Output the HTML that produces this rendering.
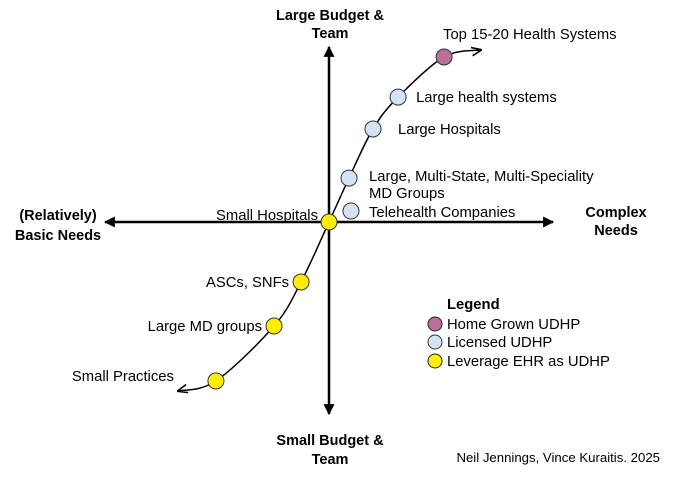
<!DOCTYPE html>
<html><head><meta charset="utf-8">
<style>
html,body{margin:0;padding:0;background:#fff;}
svg{display:block;font-family:"Liberation Sans",Arial,sans-serif;}
</style></head>
<body>
<svg id="chart" width="691" height="478" viewBox="0 0 691 478" xmlns="http://www.w3.org/2000/svg">
<defs>
<marker id="ah" viewBox="0 0 10 10" refX="9" refY="5" markerWidth="12" markerHeight="11" orient="auto-start-reverse" markerUnits="userSpaceOnUse"><path d="M0,0 L10,5 L0,10 z" fill="#000"/></marker>
<marker id="ah2" viewBox="0 0 10 10" refX="9" refY="5" markerWidth="7" markerHeight="7" orient="auto-start-reverse"><path d="M0,1 L10,5 L0,9" fill="none" stroke="#000" stroke-width="1.5"/></marker>
</defs>
<line x1="105" y1="222" x2="553" y2="222" stroke="#000" stroke-width="2.5" marker-start="url(#ah)" marker-end="url(#ah)"/>
<line x1="329" y1="47" x2="329" y2="414" stroke="#000" stroke-width="2.5" marker-start="url(#ah)" marker-end="url(#ah)"/>
<g font-weight="bold" font-size="14.5" text-anchor="middle">
<text x="330" y="20">Large Budget &amp;</text>
<text x="330" y="38">Team</text>
<text x="330" y="445">Small Budget &amp;</text>
<text x="330" y="464">Team</text>
<text x="58" y="220">(Relatively)</text>
<text x="58" y="240">Basic Needs</text>
<text x="616" y="217">Complex</text>
<text x="616" y="235">Needs</text>
</g>
<g id="plot"></g>
<g font-size="14.8">
<text x="447" y="309" font-weight="bold">Legend</text>
<circle cx="435" cy="324" r="7" fill="#b86f98" stroke="#222" stroke-width="1"/>
<text x="447" y="329">Home Grown UDHP</text>
<circle cx="435" cy="342" r="7" fill="#d4e3f3" stroke="#333" stroke-width="1"/>
<text x="447" y="347">Licensed UDHP</text>
<circle cx="435" cy="361" r="7" fill="#ffee00" stroke="#222" stroke-width="1"/>
<text x="447" y="366">Leverage EHR as UDHP</text>
</g>
<text x="660" y="462" text-anchor="end" font-size="13.2">Neil Jennings, Vince Kuraitis. 2025</text>
</svg>
<script>
const labels = ["Top 15-20 Health Systems","Large health systems","Large Hospitals","Large, Multi-State, Multi-Speciality|MD Groups","Telehealth Companies","Small Hospitals","ASCs, SNFs","Large MD groups","Small Practices"];
const complexity = [52.3, 31.4, 20, 9.1, 10, 0, -12.7, -25, -51.4];
const budget = [91.7, 69.4, 51.7, 24.4, 6.1, 0, -33.3, -57.8, -88.3];
const category = ["home","licensed","licensed","licensed","licensed","ehr","ehr","ehr","ehr"];
const onCurve = [true,true,true,true,false,true,true,true,true];
const curveStart = [-68.6, -93.9];
const curveEnd = [69.1, 95.6];

const xS = v => 329 + v * 2.2;
const yS = v => 222 - v * 1.8;
const fills = {home:"#b86f98", licensed:"#d4e3f3", ehr:"#ffee00"};
const NS = "http://www.w3.org/2000/svg";
const plot = document.getElementById("plot");

let pts = [[xS(curveStart[0]), yS(curveStart[1])]];
const idx = complexity.map((c,i)=>i).filter(i=>onCurve[i]).sort((a,b)=>budget[a]-budget[b]);
idx.forEach(i=>pts.push([xS(complexity[i]), yS(budget[i])]));
pts.push([xS(curveEnd[0]), yS(curveEnd[1])]);
let d = "M" + pts[0][0] + "," + pts[0][1];
for (let i = 0; i < pts.length - 1; i++) {
  const p0 = pts[Math.max(0,i-1)], p1 = pts[i], p2 = pts[i+1], p3 = pts[Math.min(pts.length-1,i+2)];
  const c1 = [p1[0] + (p2[0]-p0[0])/6, p1[1] + (p2[1]-p0[1])/6];
  const c2 = [p2[0] - (p3[0]-p1[0])/6, p2[1] - (p3[1]-p1[1])/6];
  d += " C" + c1[0] + "," + c1[1] + " " + c2[0] + "," + c2[1] + " " + p2[0] + "," + p2[1];
}
const path = document.createElementNS(NS, "path");


path.setAttribute("d", d);
path.setAttribute("fill", "none");
path.setAttribute("stroke", "#000");
path.setAttribute("stroke-width", "1.5");
path.setAttribute("marker-start", "url(#ah2)");
path.setAttribute("marker-end", "url(#ah2)");
plot.appendChild(path);

labels.forEach((lab, i) => {
  const cx = xS(complexity[i]), cy = yS(budget[i]);
  const c = document.createElementNS(NS, "circle");
  
  
  c.setAttribute("cx", cx); c.setAttribute("cy", cy); c.setAttribute("r", 8);
  c.setAttribute("fill", fills[category[i]]);
  c.setAttribute("stroke", "#333"); c.setAttribute("stroke-width", "1");
  plot.appendChild(c);
  const t = document.createElementNS(NS, "text");
  
  
  t.setAttribute("font-size", "14.8");
  let tx, ty, anchor;
  if (i === 0) { tx = cx - 1; ty = cy - 18; anchor = "start"; }
  else if (budget[i] > 0) { tx = cx + 18; ty = cy + 5; anchor = "start"; }
  else if (budget[i] === 0) { tx = cx - 11; ty = cy - 2; anchor = "end"; }
  else if (i === labels.length - 1) { tx = cx - 144; ty = cy; anchor = "start"; }
  else { tx = cx - 12; ty = cy + 5; anchor = "end"; }
  if (i === 2) { tx = cx + 25; }
  if (i === 3) { tx = cx + 20; ty = cy + 3; }
  if (i === 4) { ty = cy + 6; }
  t.setAttribute("x", tx); t.setAttribute("y", ty); t.setAttribute("text-anchor", anchor);
  lab.split("|").forEach((ln, k) => {
    const s = document.createElementNS(NS, "tspan");
    s.setAttribute("x", tx); s.setAttribute("dy", k ? 17 : 0);
    s.textContent = ln;
    t.appendChild(s);
  });
  plot.appendChild(t);
});
</script>
</body></html>
